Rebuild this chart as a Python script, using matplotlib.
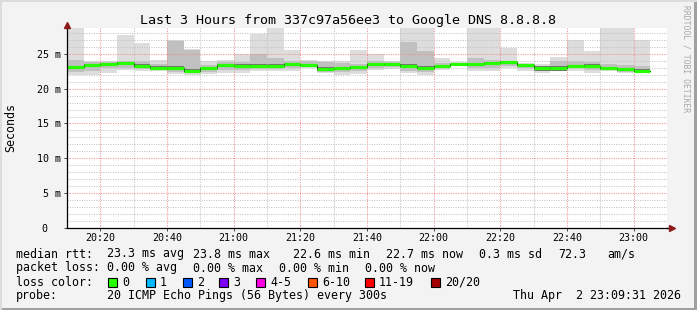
import numpy as np
import pandas as pd
import matplotlib
matplotlib.use('Agg')
import matplotlib.pyplot as plt
import matplotlib.dates as mdates
from matplotlib.ticker import MultipleLocator
from matplotlib.patches import Rectangle

plt.rcParams['font.family'] = ['DejaVu Sans Mono', 'DejaVu Sans']

W, H = 697, 310

# 5 minute rrd bins, 20:10 .. 23:05
bin_start = pd.date_range('2026-04-02 20:10', periods=35, freq='5min')

# values in ms
median = [23.1, 23.4, 23.6, 23.7, 23.3, 23.0, 23.0, 22.6, 22.9, 23.4,
          23.3, 23.3, 23.3, 23.6, 23.4, 22.8, 22.9, 23.1, 23.6, 23.6,
          23.3, 23.0, 23.2, 23.5, 23.5, 23.7, 23.8, 23.4, 22.9, 22.9,
          23.2, 23.3, 22.9, 22.8, 22.6]
smoke_max = [28.7, 24.0, 23.9, 27.7, 26.6, 24.1, 27.0, 25.7, 24.0, 24.1,
             25.0, 27.9, 28.7, 25.5, 24.1, 24.0, 23.9, 25.6, 25.0, 23.9,
             28.7, 28.7, 24.4, 23.8, 28.7, 28.7, 25.9, 23.7, 23.5, 24.5,
             27.0, 25.4, 28.7, 28.7, 27.0]
smoke_min = [22.0, 22.0, 22.3, 22.7, 22.5, 22.6, 22.1, 21.9, 22.1, 22.2,
             22.2, 22.5, 22.5, 22.6, 23.0, 22.2, 22.0, 22.1, 22.7, 22.8,
             22.2, 22.0, 22.7, 23.2, 22.6, 22.6, 22.9, 22.6, 22.2, 22.5,
             22.6, 22.2, 22.6, 22.2, 22.3]
mid_hi = [24.1, 23.8, 23.8, 24.0, 23.9, 23.6, 26.9, 25.6, 23.4, 23.8,
          23.8, 25.0, 24.4, 23.9, 23.9, 23.8, 23.7, 23.6, 24.0, 23.8,
          26.7, 25.4, 23.7, 23.7, 24.4, 24.1, 24.0, 23.6, 23.3, 23.9,
          24.0, 23.8, 23.6, 23.4, 23.2]
mid_lo = [22.4, 22.6, 22.9, 23.0, 22.8, 22.8, 22.4, 22.2, 22.4, 22.7,
          22.7, 22.8, 22.8, 23.0, 23.1, 22.4, 22.4, 22.5, 23.0, 23.1,
          22.6, 22.4, 22.9, 23.3, 22.9, 23.0, 23.2, 22.9, 22.5, 22.7,
          22.9, 22.7, 22.7, 22.4, 22.4]
core_hi = [23.3, 23.5, 23.7, 23.8, 23.5, 23.2, 23.3, 22.8, 23.1, 23.5,
           23.5, 23.6, 23.6, 23.7, 23.6, 23.1, 23.1, 23.3, 23.7, 23.7,
           23.6, 23.3, 23.4, 23.6, 23.7, 23.8, 23.9, 23.5, 23.2, 23.3,
           23.4, 23.5, 23.1, 23.0, 22.8]
core_lo = [22.9, 23.2, 23.4, 23.5, 23.1, 22.8, 22.8, 22.4, 22.7, 23.2,
           23.1, 23.1, 23.1, 23.4, 23.2, 22.6, 22.7, 22.9, 23.4, 23.4,
           23.1, 22.8, 23.0, 23.4, 23.3, 23.5, 23.6, 23.2, 22.6, 22.6,
           23.0, 23.1, 22.7, 22.5, 22.4]

y_ticks = [0, 5, 10, 15, 20, 25]
y_labels = ['0', '5 m', '10 m', '15 m', '20 m', '25 m']

loss_labels = ['0', '1', '2', '3', '4-5', '6-10', '11-19', '20/20']
loss_colors = ['#26ff00', '#00b8ff', '#0059ff', '#7e00ff', '#ff00e0',
               '#ff5500', '#ff0000', '#a10000']

fig = plt.figure(figsize=(W / 100, H / 100), dpi=100, facecolor='#f3f3f3')
ax = fig.add_axes([67 / W, 1 - 228 / H, 600 / W, 200 / H])
ax.set_facecolor('white')

x = mdates.date2num(bin_start)
w = 5 / 1440.0

# smoke layers, outer light -> inner dark
layers = [(smoke_min, smoke_max, '#dddddd'),
          (mid_lo, mid_hi, '#c0c0c0'),
          (core_lo, core_hi, '#727272')]
for lo, hi, col in layers:
    lo = np.array(lo)
    hi = np.array(hi)
    ax.bar(x, hi - lo, bottom=lo, width=w, align='edge', color=col,
           linewidth=0, zorder=1)

# median line
ax.step(np.append(x, x[-1] + w), np.append(median, median[-1]), where='post',
        color='black', lw=0.7, zorder=3)
ax.hlines(median, x, x + w, color=loss_colors[0], lw=2.3, zorder=4)

ax.set_xlim(x[0], x[0] + 180 / 1440.0)
ax.set_ylim(0, 28.7)
ax.xaxis.set_major_locator(mdates.MinuteLocator(byminute=[0, 20, 40]))
ax.xaxis.set_major_formatter(mdates.DateFormatter('%H:%M'))
ax.xaxis.set_minor_locator(mdates.MinuteLocator(byminute=range(0, 60, 10)))
ax.set_yticks(y_ticks, y_labels)
ax.yaxis.set_minor_locator(MultipleLocator(1))

ax.set_axisbelow(False)
ax.grid(which='minor', color='#c4c4c4', linestyle=(0, (1, 1.3)), lw=0.75, zorder=2)
ax.grid(which='major', color='#f29090', linestyle=(0, (1, 1.3)), lw=0.75, zorder=2)

ax.tick_params(which='major', length=2, width=0.7, color='#444444',
               labelsize=7.2, labelcolor='black')
ax.tick_params(axis='x', pad=1.5)
ax.tick_params(axis='y', pad=2.5)
ax.tick_params(which='minor', length=0)
ax.yaxis.get_major_ticks()[0].set_pad(12)

for s in ['top', 'right']:
    ax.spines[s].set_visible(False)
for s in ['left', 'bottom']:
    ax.spines[s].set_color('black')
    ax.spines[s].set_linewidth(0.9)
    ax.spines[s].set_zorder(5)

# axis arrows
ax.plot([0, 0], [1, 1.01], color='black', lw=0.9, transform=ax.transAxes, clip_on=False)
ax.plot([1, 1.005], [0, 0], color='black', lw=0.9, transform=ax.transAxes, clip_on=False)
ax.plot([0], [1.015], marker='^', ms=4.5, color='#8b1a1a', mec='#8b1a1a',
        transform=ax.transAxes, clip_on=False, zorder=6)
ax.plot([1.008], [0], marker='>', ms=4.5, color='#8b1a1a', mec='#8b1a1a',
        transform=ax.transAxes, clip_on=False, zorder=6)


def px(xp, yp):
    return xp / W, 1 - yp / H


fig.text(*px(348, 24), 'Last 3 Hours from 337c97a56ee3 to Google DNS 8.8.8.8',
         ha='center', va='baseline', fontsize=9.6)
fig.text(*px(11, 128), 'Seconds', rotation=90, ha='center', va='center', fontsize=8.4)
fig.text(*px(686, 5), 'RRDTOOL / TOBI OETIKER', rotation=270, ha='center', va='top',
         fontsize=5.8, color='#a8a8a8')

fs = 8.4
rows = [
    (257.5, [('median rtt:', 16), ('23.3 ms avg', 107), ('23.8 ms max', 193),
             ('22.6 ms min', 293), ('22.7 ms now', 386), ('0.3 ms sd', 479),
             ('72.3', 558), ('am/s', 607)]),
    (271.5, [('packet loss:', 16), ('0.00 % avg', 107), ('0.00 % max', 193),
             ('0.00 % min', 279), ('0.00 % now', 365)]),
    (285.5, [('loss color:', 16)]),
    (299.5, [('probe:', 16), ('20 ICMP Echo Pings (56 Bytes) every 300s', 107)]),
]
for yb, parts in rows:
    for txt, xp in parts:
        fig.text(*px(xp, yb), txt, ha='left', va='baseline', fontsize=fs)
fig.text(*px(681, 299.5), 'Thu Apr  2 23:09:31 2026', ha='right', va='baseline', fontsize=fs)

box_x = [108, 146, 183, 219, 256, 308, 365, 431]
for bx, lab, col in zip(box_x, loss_labels, loss_colors):
    fig.patches.append(Rectangle(px(bx, 287), 9 / W, 9 / H, transform=fig.transFigure,
                                 facecolor=col, edgecolor='black', lw=0.8))
    fig.text(*px(bx + 14, 285.5), lab, ha='left', va='baseline', fontsize=fs)

# 3d frame
fig.patches.append(Rectangle((0, 0), 1, 2 / H, transform=fig.transFigure,
                             facecolor='#a0a0a0', lw=0))
fig.patches.append(Rectangle((1 - 3 / W, 0), 3 / W, 1, transform=fig.transFigure,
                             facecolor='#a0a0a0', lw=0))
fig.patches.append(Rectangle((0, 1 - 2 / H), 1, 2 / H, transform=fig.transFigure,
                             facecolor='#dcdcdc', lw=0))
fig.patches.append(Rectangle((0, 0), 2 / W, 1, transform=fig.transFigure,
                             facecolor='#dcdcdc', lw=0))

fig.savefig('out.png', dpi=100, facecolor=fig.get_facecolor())
